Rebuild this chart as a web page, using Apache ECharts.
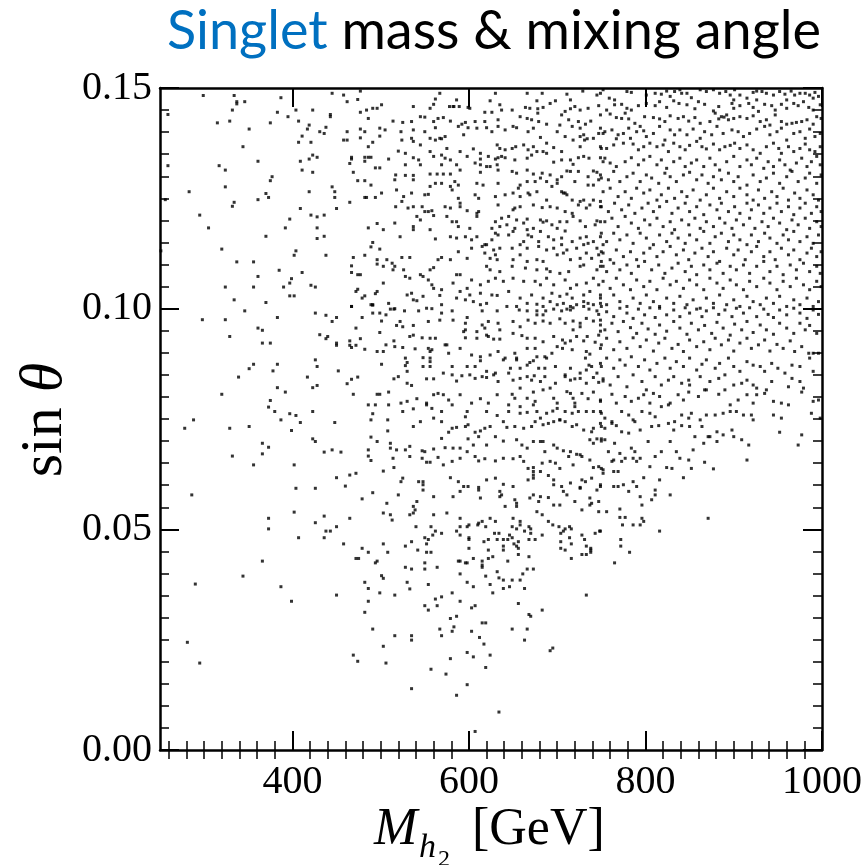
<!DOCTYPE html>
<html>
<head>
<meta charset="utf-8">
<script src="https://cdn.jsdelivr.net/npm/echarts@6/dist/echarts.min.js"></script>
<style>
html, body { margin: 0; padding: 0; background: #fff; }
#chart { width: 867px; height: 865px; }
</style>
</head>
<body>
<div id="chart"></div>
<script>
// tick labels
const xTickLabels = [400, 600, 800, 1000]
const yTickLabels = [0, 0.05, 0.1, 0.15]

// scan points (M_h2 [GeV], sin theta)
const pointsUpperLeft = [
  [299,.1483],[334,.1483],[337,.1469],[337,.1464],[346,.1469],[387,.1478],[445,.1488],[458,.1484],[462,.1469],[474,.1474],[477,.1493],[259,.1440],[315,.1421],[329,.1425],[332,.1450],[383,.1445],[395,.1435],[404,.1450],[423,.1450],[443,.1440],[443,.1435],[477,.1445],[484,.1450],[491,.1454],[496,.1454],[486,.1431],[351,.1407],[375,.1421],[407,.1425],[419,.1416],[417,.1407],[431,.1401],[436,.1397],[438,.1411],[462,.1401],[477,.1407],[482,.1401],[499,.1391],[411,.1391],[407,.1377],[421,.1377],[458,.1382],[462,.1382],[477,.1387],[491,.1377],[486,.1367],[344,.1367],[361,.1334],[409,.1334],[419,.1339],[423,.1348],[428,.1343],[467,.1343],[467,.1339],[465,.1329],[482,.1343],[486,.1343],[489,.1343],[482,.1334],[259,.1324],[317,.1324],[324,.1314],[411,.1314],[423,.1309],[469,.1309],[494,.1319],[499,.1319],[377,.1299],[375,.1290],[283,.1265],[324,.1276],[370,.1261],[373,.1252],[361,.1247],[334,.1241],[332,.1232],[419,.1265],[445,.1276],[448,.1265],[448,.1252],[450,.1227],[474,.1290],[482,.1290],[489,.1280],[482,.1252],[484,.1252],[494,.1252],[465,.1241],[256,.1247],[409,.1227],[295,.1212],[421,.1212],[428,.1208],[436,.1212],[397,.1203],[392,.1183],[428,.1183],[428,.1159],[436,.1164],[305,.1183],[370,.1164],[486,.1183],[496,.1193],[491,.1150],[489,.1140],[499,.1135],[320,.1135],[251,.1131],[404,.1131],[402,.1121],[438,.1121],[482,.1121],[469,.1116],[496,.1111],[496,.1101],[337,.1106],[356,.1106],[467,.1097],[385,.1087],[411,.1082],[467,.1082],[474,.1077],[477,.1077],[361,.1073],[399,.1068],[397,.1058],[324,.1049],[356,.1049],[390,.1049],[421,.1053],[426,.1049],[474,.1044],[472,.1039],[496,.1039],[494,.1034],[482,.1029],[479,.1024],[397,.1029],[402,.1029],[334,.1020],[370,.1014],[467,.1005],[489,.1009],[491,.1009]
]
const pointsMidLeft = [
  [346,.0995],[298,.0975],[324,.0975],[383,.0980],[426,.0990],[438,.0985],[445,.0971],[450,.0980],[467,.1005],[479,.0980],[491,.0990],[499,.0990],[491,.1008],[472,.0956],[499,.0946],[329,.0937],[361,.0956],[366,.0951],[366,.0922],[375,.0922],[431,.0941],[438,.0932],[440,.0937],[450,.0922],[450,.0917],[465,.0927],[465,.0917],[467,.0912],[472,.0917],[477,.0932],[482,.0908],[496,.0903],[426,.0884],[428,.0869],[383,.0874],[378,.0859],[356,.0874],[351,.0864],[339,.0845],[452,.0859],[417,.0845],[467,.0840],[474,.0845],[462,.0830],[383,.0821],[392,.0811],[423,.0821],[428,.0826],[320,.0806],[469,.0806],[496,.0806],[499,.0806],[375,.0792],[373,.0777],[380,.0767],[397,.0762],[404,.0758],[423,.0767],[387,.0748],[409,.0742],[448,.0742],[486,.0782],[494,.0782],[491,.0762],[489,.0748],[288,.0748],[278,.0729],[329,.0729],[351,.0733],[399,.0724],[423,.0705],[426,.0699],[366,.0695],[373,.0686],[366,.0671],[332,.0666],[436,.0675],[445,.0680],[455,.0675],[489,.0709],[496,.0699],[486,.0680],[486,.0666],[489,.0656],[356,.0646],[402,.0646],[450,.0617],[465,.0623],[472,.0627],[460,.0598],[404,.0593],[426,.0593],[286,.0578],[479,.0569],[491,.0583],[402,.0539],[373,.0525],[436,.0530],[465,.0525],[426,.0515]
]
const pointsLowerLeft = [
  [373,.0501],[407,.0481],[436,.0481],[438,.0496],[443,.0496],[450,.0506],[458,.0467],[479,.0457],[486,.0448],[472,.0434],[475,.0434],[494,.0424],[496,.0428],[366,.0428],[344,.0394],[290,.0376],[387,.0370],[450,.0351],[399,.0337],[482,.0380],[486,.0366],[499,.0356],[486,.0337],[482,.0312],[491,.0274],[281,.0244],[295,.0197],[469,.0215],[474,.0201]
]
const pointsLowerCenter = [
  [540,.0506],[557,.0506],[562,.0496],[569,.0491],[559,.0487],[554,.0477],[550,.0481],[552,.0467],[535,.0472],[528,.0462],[503,.0467],[508,.0448],[542,.0453],[552,.0448],[557,.0448],[586,.0496],[590,.0506],[590,.0487],[598,.0506],[600,.0510],[610,.0510],[619,.0506],[600,.0481],[600,.0477],[600,.0457],[617,.0472],[622,.0477],[629,.0491],[634,.0491],[632,.0477],[639,.0477],[644,.0477],[646,.0487],[649,.0481],[649,.0506],[654,.0501],[658,.0510],[663,.0496],[668,.0506],[670,.0501],[670,.0491],[668,.0477],[675,.0477],[683,.0487],[656,.0472],[651,.0467],[654,.0462],[656,.0457],[639,.0462],[639,.0453],[656,.0443],[622,.0453],[627,.0438],[622,.0434],[615,.0428],[615,.0419],[615,.0414],[605,.0434],[588,.0428],[590,.0428],[596,.0424],[598,.0424],[644,.0428],[668,.0438],[695,.0510],[702,.0506],[704,.0491],[707,.0496],[709,.0501],[714,.0506],[716,.0501],[704,.0472],[714,.0481],[716,.0467],[704,.0457],[709,.0453],[716,.0434],[728,.0487],[731,.0477],[733,.0462],[738,.0457],[738,.0453],[738,.0448],[728,.0443],[733,.0443],[743,.0491],[748,.0496],[733,.0351],[528,.0414],[535,.0410],[550,.0424],[550,.0410],[564,.0414],[501,.0395],[503,.0389],[530,.0380],[533,.0365],[554,.0375],[516,.0351],[590,.0399],[598,.0380],[605,.0370],[619,.0394],[624,.0375],[627,.0356],[632,.0404],[634,.0390],[639,.0385],[639,.0366],[646,.0370],[649,.0385],[658,.0385],[661,.0399],[666,.0410],[673,.0410],[663,.0366],[656,.0332],[581,.0356],[590,.0337],[603,.0322],[607,.0327],[562,.0342],[569,.0347],[550,.0327],[554,.0317],[564,.0327],[586,.0303],[579,.0298],[668,.0307],[670,.0303],[683,.0317],[615,.0288],[619,.0288],[649,.0274],[666,.0274],[663,.0249],[603,.0269],[583,.0279],[581,.0269],[567,.0274],[569,.0259],[535,.0259],[535,.0249],[516,.0259],[503,.0235],[506,.0197],[612,.0255],[617,.0240],[598,.0221],[605,.0211],[624,.0215],[579,.0207],[619,.0187],[557,.0183],[574,.0172],[598,.0148],[586,.0124],[535,.0139],[634,.0086],[607,.0042],[692,.0225],[695,.0231],
  [749,.0496],[774,.0510],[786,.0510],[794,.0510],[816,.0496],[772,.0477],[772,.0462],[782,.0448],[765,.0424]
]
const pointsUpperCenter = [
  [567,.1488],[586,.1473],[562,.1475],[582,.1458],[589,.1458],[601,.1454],[624,.1471],[630,.1488],[635,.1462],[666,.1488],[683,.1488],[677,.1471],[698,.1471],[711,.1486],[715,.1473],[729,.1493],[745,.1484],[749,.1488],
  [501,.1462],[537,.1458],[556,.1454],[560,.1463],[578,.1458],[583,.1458],[599,.1456],[618,.1445],[626,.1445],[637,.1450],[649,.1450],[664,.1456],[669,.1454],[678,.1453],[678,.1443],[684,.1456],[692,.1465],[705,.1439],[709,.1447],[715,.1453],[720,.1458],[726,.1450],[735,.1454],[747,.1460],
  [514,.1425],[525,.1422],[535,.1424],[545,.1435],[550,.1434],[560,.1424],[565,.1431],[571,.1433],[579,.1425],[588,.1413],[592,.1418],[596,.1422],[607,.1424],[618,.1424],[633,.1428],[650,.1413],[658,.1435],[666,.1431],[671,.1428],[679,.1424],[688,.1418],[703,.1416],[713,.1428],[724,.1424],[732,.1418],[738,.1425],[749,.1409],
  [499,.1409],[505,.1405],[523,.1401],[535,.1386],[537,.1405],[550,.1401],[562,.1410],[567,.1386],[573,.1390],[594,.1394],[599,.1410],[609,.1409],[620,.1410],[626,.1401],[633,.1413],[641,.1405],[654,.1410],[667,.1401],[673,.1409],[681,.1388],[700,.1401],[709,.1390],[717,.1413],[726,.1409],[730,.1394],[734,.1385],[741,.1386],[747,.1397],[752,.1397],[726,.1390],
  [524,.1382],[537,.1379],[545,.1371],[556,.1386],[562,.1382],[569,.1385],[575,.1363],[590,.1356],[605,.1362],[613,.1352],[632,.1371],[635,.1363],[641,.1360],[649,.1363],[653,.1367],[662,.1371],[667,.1360],[673,.1367],[677,.1356],[684,.1356],[688,.1375],[696,.1365],[705,.1356],[718,.1382],[726,.1367],[731,.1382],[750,.1363],
  [520,.1357],[528,.1352],[537,.1342],[543,.1337],[556,.1356],[560,.1345],[569,.1348],[573,.1341],[579,.1337],[586,.1326],[598,.1345],[607,.1330],[613,.1339],[622,.1345],[630,.1339],[633,.1342],[637,.1345],[641,.1342],[613,.1326],[624,.1322],[632,.1326],[652,.1337],[666,.1341],[671,.1348],[688,.1352],[696,.1332],[705,.1337],[715,.1337],[718,.1327],[724,.1342],[730,.1345],[736,.1341],[749,.1342],[752,.1333],[509,.1339],[528,.1326],[545,.1326],[569,.1326],
  [517,.1303],[528,.1302],[537,.1302],[556,.1305],[564,.1305],[571,.1305],[579,.1305],[590,.1314],[613,.1309],[620,.1322],[633,.1314],[649,.1311],[654,.1307],[666,.1314],[673,.1305],[683,.1307],[692,.1303],[700,.1292],[705,.1299],[711,.1312],[715,.1311],[724,.1311],[741,.1312],[745,.1309],[750,.1296],[735,.1299],
  [516,.1292],[537,.1292],[556,.1277],[562,.1284],[569,.1284],[579,.1277],[584,.1288],[588,.1280],[609,.1284],[616,.1280],[633,.1284],[658,.1280],[656,.1273],[666,.1288],[675,.1288],[681,.1296],[688,.1288],[694,.1277],[700,.1284],[705,.1265],[709,.1262],[720,.1288],[735,.1280],[741,.1280],[747,.1292],[518,.1269],[501,.1262],[535,.1262],[550,.1258],[554,.1259],[581,.1269],
  [524,.1243],[526,.1254],[588,.1250],[590,.1239],[607,.1258],[611,.1250],[630,.1254],[641,.1258],[650,.1262],[658,.1254],[667,.1262],[669,.1258],[677,.1265],[688,.1246],[707,.1262],[711,.1258],[717,.1246],[726,.1243],[730,.1246],[741,.1246],[749,.1243],[517,.1231],[531,.1228],[537,.1231],[547,.1231],[554,.1220],[573,.1231],[579,.1228],[590,.1231],[598,.1222],[611,.1220],[609,.1216],[633,.1235],[650,.1224],[652,.1228],[658,.1231],[673,.1235],[683,.1229],[692,.1231],[700,.1228],[709,.1220],[717,.1216],[724,.1235],[733,.1228],[737,.1235],[749,.1231],
  [541,.1209],[545,.1201],[550,.1220],[558,.1222],[560,.1211],[575,.1209],[581,.1197],[586,.1197],[609,.1209],[630,.1197],[637,.1205],[645,.1209],[654,.1201],[662,.1194],[666,.1203],[681,.1201],[684,.1196],[688,.1199],[694,.1190],[703,.1197],[711,.1197],[718,.1209],[726,.1199],[745,.1199],[749,.1197],[503,.1179],[516,.1194],[537,.1186],[537,.1179],[556,.1179],[588,.1186],[601,.1182],[626,.1182],[635,.1186],[643,.1190],[652,.1182],[666,.1179],[673,.1182],[681,.1175],[700,.1182],[709,.1176],[732,.1186],[743,.1190],[750,.1171],
  [522,.1163],[562,.1158],[579,.1163],[586,.1160],[596,.1163],[603,.1156],[609,.1163],[618,.1145],[626,.1156],[630,.1171],[633,.1167],[645,.1167],[650,.1175],[662,.1152],[667,.1167],[671,.1163],[679,.1152],[690,.1163],[696,.1156],[705,.1160],[717,.1152],[726,.1160],[733,.1163],[741,.1152],[752,.1145],[603,.1137],[615,.1141],[620,.1145],[628,.1133],[635,.1137],[649,.1137],[658,.1145],[666,.1137],[679,.1141],[688,.1133],[696,.1137],[705,.1145],[711,.1133],[722,.1137],[730,.1145],[735,.1148],[745,.1137],[750,.1129],
  [507,.1111],[513,.1103],[516,.1096],[524,.1116],[533,.1116],[565,.1111],[569,.1116],[579,.1111],[588,.1129],[598,.1114],[618,.1126],[624,.1114],[630,.1122],[632,.1111],[658,.1122],[650,.1111],[666,.1107],[677,.1111],[684,.1107],[700,.1122],[707,.1126],[715,.1111],[726,.1114],[733,.1126],[739,.1114],[747,.1122],[750,.1107],[503,.1096],[514,.1088],[526,.1088],[545,.1077],[556,.1088],[560,.1093],[586,.1077],[590,.1077],[620,.1096],[624,.1088],[635,.1084],[649,.1096],[664,.1092],[677,.1088],[688,.1090],[692,.1084],[703,.1080],[713,.1084],[726,.1096],[730,.1099],[745,.1088],[752,.1096],
  [503,.1058],[528,.1073],[533,.1069],[548,.1073],[554,.1065],[558,.1054],[569,.1043],[582,.1058],[590,.1039],[598,.1046],[603,.1065],[613,.1054],[622,.1062],[630,.1069],[639,.1062],[650,.1069],[662,.1062],[675,.1062],[681,.1054],[688,.1069],[696,.1054],[709,.1065],[715,.1046],[722,.1054],[733,.1058],[741,.1069],[747,.1054],[530,.1031],[535,.1035],[548,.1028],[560,.1046],[567,.1030],[601,.1031],[613,.1035],[626,.1031],[632,.1030],[645,.1039],[658,.1024],[671,.1031],[684,.1024],[694,.1035],[703,.1028],[711,.1033],[717,.1024],[730,.1031],[737,.1039],[749,.1031],
  [509,.1012],[516,.1000],[537,.1020],[541,.1018],[552,.1001],[558,.1000],[569,.1009],[586,.1024],[596,.1020],[605,.1016],[613,.1009],[620,.1012],[643,.1005],[654,.1005],[666,.1012],[677,.1010],[684,.1005],[692,.1016],[700,.1009],[707,.1012],[715,.1005],[722,.1009],[730,.1016],[735,.1012],[741,.1009],[749,.1012]
]
const pointsCenter = [
  [511,.0999],[515,.0999],[527,.0995],[543,.0995],[569,.0990],[581,.0995],[598,.0980],[615,.0995],[632,.0995],[657,.0997],[666,.0995],[677,.0995],[677,.0986],[684,.0986],[687,.0995],[696,.0999],[705,.0995],[711,.0999],[715,.0997],[718,.1002],[730,.1005],[736,.0999],[745,.0995],[747,.0987],[749,.0974],[506,.0986],[501,.0972],
  [522,.0971],[525,.0959],[518,.0962],[537,.0962],[554,.0971],[567,.0974],[582,.0974],[596,.0967],[596,.0952],[615,.0963],[622,.0971],[618,.0956],[633,.0967],[635,.0952],[650,.0971],[658,.0959],[667,.0974],[675,.0967],[684,.0972],[692,.0967],[703,.0977],[709,.0967],[718,.0972],[726,.0967],[733,.0978],[741,.0972],[749,.0949],[718,.0952],[726,.0959],
  [533,.0937],[537,.0940],[547,.0934],[556,.0933],[562,.0933],[573,.0918],[594,.0948],[596,.0934],[609,.0948],[609,.0933],[620,.0940],[622,.0937],[628,.0931],[635,.0931],[650,.0944],[660,.0939],[666,.0933],[675,.0933],[684,.0925],[696,.0937],[706,.0929],[709,.0922],[715,.0927],[722,.0937],[730,.0927],[734,.0937],[743,.0924],[747,.0940],[506,.0918],[515,.0927],[516,.0914],[525,.0912],
  [539,.0909],[554,.0910],[556,.0903],[558,.0907],[575,.0918],[590,.0910],[577,.0899],[603,.0895],[613,.0891],[624,.0895],[633,.0903],[641,.0888],[652,.0899],[654,.0888],[666,.0910],[675,.0910],[677,.0891],[686,.0891],[694,.0899],[700,.0914],[706,.0910],[717,.0907],[732,.0888],[733,.0903],[737,.0897],[749,.0910],[528,.0888],[530,.0878],[548,.0889],[556,.0888],[503,.0903],
  [501,.0874],[528,.0871],[530,.0858],[548,.0869],[556,.0880],[556,.0869],[581,.0869],[598,.0869],[607,.0869],[613,.0882],[620,.0858],[630,.0854],[639,.0884],[647,.0865],[654,.0884],[658,.0865],[666,.0872],[669,.0878],[673,.0882],[679,.0865],[686,.0865],[688,.0888],[698,.0869],[709,.0850],[715,.0865],[726,.0854],[733,.0861],[736,.0872],[739,.0869],[745,.0854],[750,.0869],
  [515,.0841],[520,.0846],[530,.0831],[535,.0826],[552,.0841],[560,.0841],[571,.0854],[581,.0850],[586,.0836],[592,.0848],[601,.0850],[607,.0842],[615,.0846],[620,.0844],[628,.0850],[633,.0835],[645,.0854],[650,.0838],[658,.0842],[666,.0846],[671,.0838],[674,.0848],[681,.0835],[686,.0846],[692,.0820],[698,.0831],[709,.0846],[715,.0838],[720,.0841],[726,.0842],[733,.0831],[741,.0844],[747,.0833],[752,.0836],
  [509,.0811],[523,.0786],[530,.0790],[541,.0796],[552,.0786],[560,.0805],[565,.0808],[571,.0805],[577,.0793],[590,.0805],[603,.0786],[613,.0796],[622,.0786],[632,.0805],[645,.0782],[649,.0806],[652,.0797],[658,.0820],[666,.0797],[673,.0811],[675,.0790],[684,.0816],[696,.0797],[700,.0786],[711,.0812],[715,.0808],[718,.0797],[720,.0786],[728,.0808],[735,.0796],[741,.0811],[749,.0790],
  [509,.0782],[525,.0767],[537,.0773],[552,.0782],[558,.0774],[569,.0767],[581,.0782],[598,.0767],[596,.0755],[620,.0767],[632,.0758],[645,.0767],[658,.0778],[658,.0763],[666,.0765],[673,.0782],[677,.0767],[681,.0752],[688,.0763],[695,.0768],[700,.0774],[703,.0748],[709,.0767],[717,.0763],[720,.0778],[724,.0767],[733,.0767],[741,.0767],[749,.0767],[508,.0748],
  [537,.0733],[545,.0744],[560,.0752],[569,.0744],[577,.0720],[581,.0729],[586,.0731],[596,.0733],[599,.0737],[607,.0720],[613,.0723],[618,.0729],[624,.0733],[639,.0744],[643,.0731],[652,.0733],[662,.0729],[671,.0733],[675,.0744],[684,.0737],[690,.0740],[696,.0744],[703,.0748],[709,.0744],[717,.0733],[722,.0737],[730,.0725],[739,.0721],[741,.0729],[750,.0733],[508,.0723],
  [511,.0695],[511,.0684],[518,.0680],[528,.0680],[533,.0688],[547,.0678],[550,.0676],[560,.0682],[569,.0706],[573,.0685],[582,.0684],[590,.0684],[599,.0705],[605,.0691],[611,.0710],[620,.0691],[630,.0710],[639,.0700],[654,.0703],[660,.0691],[666,.0684],[673,.0699],[681,.0699],[684,.0699],[686,.0676],[696,.0691],[700,.0684],[707,.0678],[715,.0676],[722,.0670],[726,.0669],[737,.0703],[745,.0705],[750,.0705],[741,.0695],
  [514,.0661],[515,.0640],[533,.0665],[547,.0661],[552,.0652],[556,.0652],[565,.0663],[571,.0646],[581,.0654],[590,.0661],[598,.0676],[607,.0665],[611,.0655],[618,.0660],[630,.0655],[639,.0661],[650,.0660],[658,.0665],[662,.0654],[667,.0638],[673,.0640],[673,.0631],[683,.0650],[692,.0654],[698,.0650],[703,.0638],[713,.0665],[718,.0646],[728,.0665],[737,.0657],[741,.0640],[747,.0642],[750,.0638],[503,.0632],
  [525,.0616],[523,.0608],[543,.0608],[548,.0601],[548,.0608],[579,.0617],[588,.0608],[594,.0597],[599,.0597],[611,.0595],[620,.0612],[630,.0616],[639,.0602],[650,.0597],[667,.0612],[673,.0623],[673,.0616],[681,.0631],[690,.0622],[696,.0612],[696,.0601],[705,.0597],[715,.0605],[726,.0595],[728,.0612],[732,.0608],[739,.0616],[749,.0597],[745,.0589],[520,.0578],
  [548,.0589],[560,.0574],[582,.0574],[590,.0586],[611,.0589],[613,.0571],[635,.0574],[635,.0586],[637,.0578],[652,.0567],[654,.0559],[654,.0552],[669,.0571],[673,.0578],[679,.0563],[681,.0574],[690,.0572],[696,.0555],[703,.0555],[707,.0586],[711,.0578],[720,.0563],[726,.0593],[737,.0571],[739,.0559],[747,.0563],[507,.0559],[537,.0552],[541,.0563],
  [503,.0537],[511,.0533],[513,.0521],[533,.0533],[537,.0537],[539,.0544],[560,.0533],[575,.0537],[590,.0525],[611,.0514],[615,.0518],[624,.0525],[630,.0518],[641,.0552],[650,.0525],[658,.0518],[677,.0540],[683,.0533],[690,.0518],[728,.0544],[737,.0555],[747,.0540]
]
const pointsUpperRight = [
  [752,.1496],[759,.1477],[765,.1473],[779,.1492],[784,.1490],[801,.1484],[811,.1488],[818,.1486],[824,.1493],[828,.1481],[833,.1492],[839,.1496],[841,.1488],[847,.1488],[852,.1478],[862,.1496],[869,.1492],[877,.1496],[884,.1488],[891,.1492],[896,.1484],[901,.1496],[907,.1484],[915,.1477],[922,.1490],[926,.1493],[932,.1492],[937,.1488],[945,.1484],[952,.1492],[958,.1486],[965,.1493],[969,.1484],[975,.1488],[981,.1488],[986,.1484],[992,.1490],[996,.1481],[900,.1473],[926,.1473],[960,.1473],[990,.1477],
  [756,.1450],[765,.1462],[773,.1463],[779,.1454],[784,.1450],[792,.1460],[801,.1465],[811,.1460],[816,.1469],[824,.1456],[832,.1471],[838,.1465],[847,.1462],[856,.1453],[860,.1469],[867,.1463],[877,.1448],[883,.1458],[886,.1435],[892,.1439],[898,.1465],[900,.1454],[907,.1460],[917,.1465],[922,.1456],[928,.1447],[935,.1463],[943,.1460],[947,.1450],[954,.1463],[960,.1454],[968,.1465],[973,.1460],[979,.1469],[985,.1456],[990,.1450],[998,.1462],
  [749,.1439],[760,.1441],[767,.1433],[773,.1431],[777,.1443],[781,.1430],[788,.1420],[794,.1413],[799,.1435],[809,.1433],[816,.1430],[822,.1424],[828,.1437],[837,.1431],[843,.1435],[849,.1425],[856,.1433],[862,.1420],[873,.1424],[879,.1443],[883,.1430],[889,.1434],[894,.1428],[900,.1431],[907,.1435],[915,.1431],[922,.1437],[930,.1424],[937,.1428],[941,.1416],[947,.1439],[954,.1424],[960,.1418],[966,.1420],[971,.1422],[977,.1424],[983,.1428],[990,.1418],[994,.1435],[999,.1431],
  [754,.1401],[762,.1405],[769,.1394],[775,.1397],[781,.1409],[790,.1401],[798,.1403],[801,.1390],[809,.1397],[816,.1413],[822,.1382],[828,.1405],[833,.1394],[839,.1405],[847,.1394],[854,.1407],[862,.1386],[867,.1401],[875,.1394],[881,.1413],[888,.1397],[898,.1405],[905,.1401],[911,.1390],[918,.1397],[926,.1407],[935,.1413],[941,.1394],[949,.1401],[954,.1409],[960,.1382],[968,.1397],[975,.1401],[981,.1386],[986,.1407],[992,.1390],[998,.1397],[767,.1385],[783,.1386],
  [749,.1367],[756,.1363],[764,.1371],[775,.1375],[786,.1373],[792,.1360],[798,.1367],[805,.1375],[813,.1367],[820,.1371],[826,.1356],[832,.1375],[839,.1367],[845,.1360],[850,.1370],[858,.1379],[864,.1367],[869,.1362],[877,.1373],[884,.1360],[890,.1367],[896,.1370],[901,.1375],[907,.1363],[915,.1371],[922,.1360],[930,.1352],[937,.1367],[945,.1375],[951,.1363],[954,.1352],[962,.1367],[968,.1356],[975,.1363],[981,.1373],[986,.1360],[992,.1356],[998,.1367],
  [754,.1341],[760,.1330],[767,.1322],[777,.1333],[784,.1342],[792,.1326],[798,.1337],[805,.1345],[813,.1326],[818,.1337],[824,.1318],[832,.1333],[839,.1341],[845,.1322],[852,.1330],[858,.1337],[866,.1322],[873,.1341],[879,.1326],[884,.1314],[892,.1333],[900,.1345],[907,.1322],[915,.1337],[920,.1326],[926,.1341],[934,.1318],[939,.1333],[945,.1322],[952,.1337],[958,.1326],[964,.1314],[971,.1330],[977,.1341],[983,.1322],[988,.1333],[994,.1345],[998,.1326],
  [749,.1303],[758,.1292],[764,.1311],[771,.1288],[779,.1299],[786,.1307],[794,.1288],[801,.1303],[807,.1296],[815,.1284],[822,.1307],[828,.1299],[835,.1288],[843,.1303],[850,.1309],[858,.1292],[864,.1303],[871,.1284],[877,.1299],[886,.1292],[894,.1307],[900,.1288],[905,.1299],[915,.1280],[922,.1303],[930,.1288],[937,.1296],[945,.1307],[952,.1284],[960,.1299],[966,.1311],[973,.1288],[981,.1296],[986,.1307],[994,.1284],[999,.1303],
  [752,.1265],[760,.1273],[769,.1254],[777,.1265],[784,.1250],[790,.1273],[798,.1262],[805,.1269],[813,.1246],[818,.1258],[826,.1273],[833,.1250],[841,.1265],[847,.1254],[854,.1269],[862,.1246],[869,.1258],[877,.1273],[884,.1250],[892,.1265],[900,.1254],[907,.1273],[915,.1258],[922,.1246],[928,.1269],[935,.1250],[943,.1265],[949,.1254],[956,.1273],[962,.1246],[969,.1262],[975,.1250],[983,.1269],[990,.1258],[996,.1246],
  [750,.1231],[758,.1220],[765,.1239],[773,.1224],[781,.1235],[788,.1216],[796,.1228],[803,.1239],[809,.1220],[816,.1231],[824,.1243],[830,.1216],[837,.1228],[845,.1239],[850,.1220],[858,.1231],[866,.1213],[873,.1235],[881,.1224],[886,.1239],[894,.1220],[901,.1231],[907,.1216],[915,.1239],[920,.1224],[928,.1235],[934,.1216],[941,.1228],[949,.1239],[954,.1220],[962,.1231],[968,.1213],[975,.1228],[981,.1239],[988,.1216],[994,.1231],[999,.1220],
  [754,.1197],[762,.1205],[769,.1186],[777,.1209],[784,.1194],[792,.1182],[799,.1201],[805,.1190],[813,.1205],[820,.1186],[828,.1197],[833,.1179],[841,.1201],[849,.1190],[856,.1205],[862,.1182],[869,.1197],[877,.1186],[884,.1205],[890,.1194],[898,.1182],[903,.1201],[911,.1190],[918,.1205],[924,.1182],[932,.1197],[939,.1186],[945,.1205],[952,.1194],[960,.1179],[966,.1201],[973,.1190],[981,.1205],[986,.1182],[994,.1197],[999,.1186],
  [749,.1163],[756,.1152],[764,.1171],[771,.1156],[779,.1167],[786,.1148],[794,.1171],[801,.1160],[809,.1145],[816,.1167],[824,.1152],[830,.1171],[837,.1160],[845,.1148],[850,.1167],[858,.1156],[866,.1175],[873,.1148],[879,.1163],[886,.1171],[894,.1152],[900,.1167],[907,.1156],[915,.1145],[920,.1167],[928,.1152],[935,.1171],[941,.1160],[949,.1148],[956,.1167],[962,.1156],[968,.1175],[975,.1152],[983,.1163],[990,.1148],[996,.1167],
  [752,.1126],[760,.1111],[767,.1133],[775,.1118],[783,.1129],[790,.1111],[798,.1126],[805,.1137],[813,.1118],[820,.1129],[828,.1141],[835,.1122],[843,.1133],[849,.1111],[856,.1126],[864,.1137],[871,.1118],[877,.1129],[884,.1107],[892,.1137],[900,.1122],[905,.1133],[913,.1111],[920,.1129],[926,.1141],[934,.1118],[941,.1129],[947,.1111],[954,.1137],[962,.1122],[968,.1133],[975,.1111],[983,.1126],[988,.1137],[994,.1118],[999,.1129],
  [749,.1096],[756,.1084],[764,.1103],[771,.1088],[779,.1099],[784,.1080],[792,.1096],[799,.1107],[807,.1088],[815,.1099],[822,.1080],[830,.1092],[837,.1103],[845,.1084],[852,.1096],[858,.1077],[866,.1099],[873,.1088],[881,.1103],[888,.1080],[896,.1096],[903,.1088],[911,.1099],[918,.1080],[926,.1096],[934,.1107],[941,.1084],[949,.1096],[956,.1077],[964,.1099],[971,.1088],[979,.1103],[986,.1084],[994,.1096],[998,.1080],
  [752,.1062],[760,.1046],[767,.1069],[775,.1054],[783,.1043],[790,.1065],[798,.1050],[805,.1062],[813,.1043],[820,.1069],[828,.1054],[835,.1062],[843,.1046],[850,.1065],[858,.1054],[866,.1043],[873,.1069],[881,.1058],[888,.1046],[896,.1065],[903,.1054],[911,.1043],[918,.1062],[926,.1050],[934,.1069],[941,.1058],[949,.1043],[956,.1062],[964,.1050],[971,.1069],[979,.1054],[986,.1043],[994,.1062],[999,.1050],
  [749,.1024],[756,.1009],[764,.1031],[771,.1016],[779,.1005],[786,.1024],[794,.1012],[801,.1031],[809,.1016],[816,.1005],[824,.1024],[832,.1012],[839,.1028],[847,.1009],[854,.1020],[862,.1001],[869,.1024],[877,.1012],[884,.1031],[892,.1009],[900,.1020],[907,.1005],[915,.1028],[922,.1016],[930,.1009],[937,.1024],[945,.1012],[952,.1028],[960,.1005],[968,.1020],[975,.1009],[983,.1024],[990,.1005],[996,.1016]
]
const pointsRight = [
  [750,.1005],[756,.0993],[764,.0982],[771,.1001],[779,.0990],[786,.0978],[792,.0999],[799,.0986],[805,.1002],[811,.0980],[816,.1001],[824,.0986],[832,.0997],[839,.0982],[845,.1002],[850,.0990],[858,.0999],[864,.0982],[869,.0995],[877,.1002],[883,.0987],[890,.0997],[898,.0982],[903,.1001],[911,.0990],[918,.1002],[926,.0982],[934,.0999],[939,.0987],[945,.0980],[952,.0997],[960,.0986],[968,.1001],[975,.0990],[983,.0978],[990,.0997],[996,.0987],
  [749,.0963],[754,.0952],[762,.0967],[769,.0948],[775,.0971],[783,.0957],[790,.0944],[796,.0967],[803,.0954],[811,.0942],[816,.0963],[824,.0949],[832,.0971],[839,.0956],[847,.0942],[852,.0967],[860,.0952],[867,.0962],[875,.0944],[881,.0969],[888,.0956],[896,.0940],[901,.0965],[909,.0952],[915,.0971],[922,.0946],[930,.0963],[937,.0952],[945,.0942],[952,.0967],[960,.0956],[968,.0944],[975,.0967],[981,.0952],[986,.0962],[994,.0944],
  [750,.0918],[756,.0933],[764,.0907],[771,.0925],[779,.0910],[786,.0934],[794,.0914],[801,.0929],[809,.0904],[815,.0922],[822,.0933],[830,.0910],[837,.0919],[843,.0903],[850,.0929],[858,.0914],[866,.0925],[873,.0907],[879,.0933],[886,.0918],[894,.0929],[900,.0904],[907,.0922],[915,.0933],[920,.0910],[928,.0918],[935,.0929],[941,.0904],[949,.0919],[956,.0910],[964,.0927],[969,.0903],[977,.0914],[985,.0899],[990,.0899],[996,.0899],
  [749,.0876],[756,.0888],[764,.0865],[771,.0884],[777,.0872],[784,.0891],[792,.0869],[799,.0884],[805,.0861],[813,.0876],[822,.0888],[828,.0865],[835,.0880],[843,.0869],[850,.0888],[858,.0861],[864,.0874],[869,.0884],[879,.0865],[884,.0876],[894,.0888],[900,.0869],[907,.0858],[915,.0880],[922,.0872],[930,.0869],[935,.0858],[943,.0876],[950,.0865],[958,.0854],[966,.0872],[975,.0869],[986,.0888],[990,.0858],
  [752,.0841],[760,.0827],[769,.0846],[779,.0823],[786,.0850],[796,.0835],[801,.0816],[811,.0846],[818,.0827],[826,.0838],[832,.0846],[841,.0831],[849,.0838],[850,.0827],[862,.0846],[867,.0816],[873,.0835],[883,.0842],[890,.0850],[900,.0827],[909,.0831],[915,.0838],[922,.0827],[926,.0820],[937,.0816],[943,.0835],[962,.0823],[966,.0842],[975,.0835],[979,.0820],
  [749,.0793],[762,.0806],[767,.0786],[777,.0801],[784,.0790],[792,.0797],[798,.0805],[805,.0786],[809,.0808],[816,.0801],[828,.0786],[837,.0805],[843,.0793],[849,.0811],[860,.0801],[869,.0816],[883,.0806],[890,.0816],[896,.0782],[905,.0793],[915,.0805],[922,.0786],[926,.0805],[935,.0808],[945,.0790],[954,.0786],[962,.0782],[977,.0811],[990,.0790],[996,.0793],
  [750,.0763],[754,.0752],[762,.0744],[773,.0767],[781,.0759],[786,.0748],[796,.0767],[805,.0763],[811,.0755],[818,.0778],[826,.0782],[833,.0744],[841,.0759],[849,.0752],[852,.0763],[862,.0748],[869,.0759],[879,.0759],[888,.0763],[896,.0767],[903,.0767],[911,.0759],[920,.0759],[922,.0748],[945,.0759],[954,.0752],[988,.0763],[998,.0752],
  [749,.0740],[754,.0729],[762,.0740],[767,.0735],[773,.0721],[781,.0718],[788,.0744],[794,.0725],[807,.0733],[815,.0735],[826,.0740],[832,.0725],[841,.0735],[850,.0733],[856,.0710],[864,.0733],[871,.0710],[881,.0721],[888,.0714],[898,.0725],[900,.0710],[952,.0720],[977,.0714],
  [750,.0700],[754,.0703],[765,.0695],[771,.0672],[777,.0661],[784,.0684],[788,.0676],[794,.0661],[803,.0699],[811,.0665],[818,.0676],[828,.0699],[835,.0676],[839,.0661],[849,.0657],[854,.0680],[866,.0695],[873,.0710],[881,.0699],[909,.0703],[917,.0691],[915,.0657],[973,.0691],[758,.0676],[762,.0654],[764,.0657],
  [752,.0635],[752,.0627],[764,.0631],[769,.0631],[773,.0654],[786,.0661],[790,.0654],[798,.0617],[805,.0642],[811,.0589],[816,.0612],[824,.0640],[830,.0638],[843,.0617],[852,.0638],[867,.0652],[877,.0637],[749,.0601],[764,.0597],[769,.0597],[775,.0601],
  [781,.0586],[786,.0608],[790,.0597],[794,.0574],[796,.0555],[807,.0567],[811,.0578],[828,.0578],[756,.0540],[771,.0546],[771,.0527],[777,.0527],[796,.0525],[798,.0518],[871,.0525]
]

const allPoints = [].concat(pointsUpperLeft, pointsMidLeft, pointsLowerLeft, pointsLowerCenter,
  pointsUpperCenter, pointsCenter, pointsUpperRight, pointsRight)

// minor ticks every 20 GeV between the labelled ones
const xMinorTicks = []
for (let v = 260; v <= 1000; v += 20) {
  if (xTickLabels.indexOf(v) < 0) xMinorTicks.push(v)
}

const serif = 'Liberation Serif'
const frame = { show: true, onZero: false, lineStyle: { color: '#000', width: 2.5 } }

const xAxisCommon = { type: 'value', min: 250, max: 1000, splitLine: { show: false } }

const chart = echarts.init(document.getElementById('chart'))

chart.setOption({
  animation: false,
  backgroundColor: '#fff',
  title: {
    text: '{a|Singlet}{b| mass & mixing angle}',
    left: 489,
    top: 0,
    textAlign: 'center',
    textStyle: {
      rich: {
        a: { color: '#0070C0', fontSize: 54, fontWeight: 'normal', fontFamily: 'Lato' },
        b: { color: '#000', fontSize: 54, fontWeight: 'normal', fontFamily: 'Lato' }
      }
    }
  },
  grid: { left: 160, right: 45, top: 88, bottom: 115 },
  xAxis: [
    Object.assign({}, xAxisCommon, {
      position: 'bottom',
      axisLine: frame,
      axisTick: { show: true, inside: true, length: 19, customValues: xTickLabels, lineStyle: { color: '#000', width: 2 } },
      axisLabel: { customValues: xTickLabels, margin: 12, color: '#000', fontFamily: serif, fontSize: 40, formatter: v => String(v) }
    }),
    Object.assign({}, xAxisCommon, {
      position: 'bottom',
      axisLine: { show: false },
      axisTick: { show: true, inside: true, length: 9, customValues: xMinorTicks, lineStyle: { color: '#000', width: 1.5 } },
      axisLabel: { show: false }
    }),
    Object.assign({}, xAxisCommon, {
      position: 'top',
      axisLine: frame,
      axisTick: { show: true, inside: true, length: 19, customValues: xTickLabels, lineStyle: { color: '#000', width: 2 } },
      axisLabel: { show: false }
    }),
    Object.assign({}, xAxisCommon, {
      position: 'top',
      axisLine: { show: false },
      axisTick: { show: true, inside: true, length: 9, customValues: xMinorTicks, lineStyle: { color: '#000', width: 1.5 } },
      axisLabel: { show: false }
    })
  ],
  yAxis: [
    {
      type: 'value', position: 'left', min: 0, max: 0.15, interval: 0.05,
      splitLine: { show: false },
      axisLine: frame,
      axisTick: { show: true, inside: true, length: 19, lineStyle: { color: '#000', width: 2 } },
      minorTick: { show: true, splitNumber: 10, length: 9, lineStyle: { color: '#000', width: 1.5 } },
      axisLabel: {
        margin: 8, color: '#000', fontFamily: serif, fontSize: 40,
        formatter: v => yTickLabels.some(t => Math.abs(t - v) < 1e-9) ? v.toFixed(2) : ''
      }
    },
    {
      type: 'value', position: 'right', min: 0, max: 0.15, interval: 0.05,
      splitLine: { show: false },
      axisLine: frame,
      axisTick: { show: true, inside: true, length: 19, lineStyle: { color: '#000', width: 2 } },
      minorTick: { show: true, splitNumber: 10, length: 9, lineStyle: { color: '#000', width: 1.5 } },
      axisLabel: { show: false }
    }
  ],
  graphic: [
    {
      type: 'text', x: 45, y: 420, rotation: Math.PI / 2,
      style: {
        text: '{r|sin }{i|θ}',
        align: 'center', verticalAlign: 'middle',
        rich: {
          r: { fontFamily: serif, fontSize: 60, fill: '#000' },
          i: { fontFamily: serif, fontSize: 60, fontStyle: 'italic', fill: '#000' }
        }
      }
    },
    { type: 'text', x: 374, y: 830, style: { text: 'M', font: 'italic 52px "Liberation Serif"', fill: '#000', verticalAlign: 'middle' } },
    { type: 'text', x: 419, y: 848, style: { text: 'h', font: 'italic 34px "Liberation Serif"', fill: '#000', verticalAlign: 'middle' } },
    { type: 'text', x: 438, y: 860, style: { text: '2', font: '24px "Liberation Serif"', fill: '#000', verticalAlign: 'middle' } },
    { type: 'text', x: 472, y: 830, style: { text: '[GeV]', font: '52px "Liberation Serif"', fill: '#000', verticalAlign: 'middle' } }
  ],
  series: [{
    type: 'scatter',
    xAxisIndex: 0,
    yAxisIndex: 0,
    data: allPoints,
    symbol: 'rect',
    symbolSize: 3,
    itemStyle: { color: '#000' },
    silent: true
  }]
})
</script>
</body>
</html>
